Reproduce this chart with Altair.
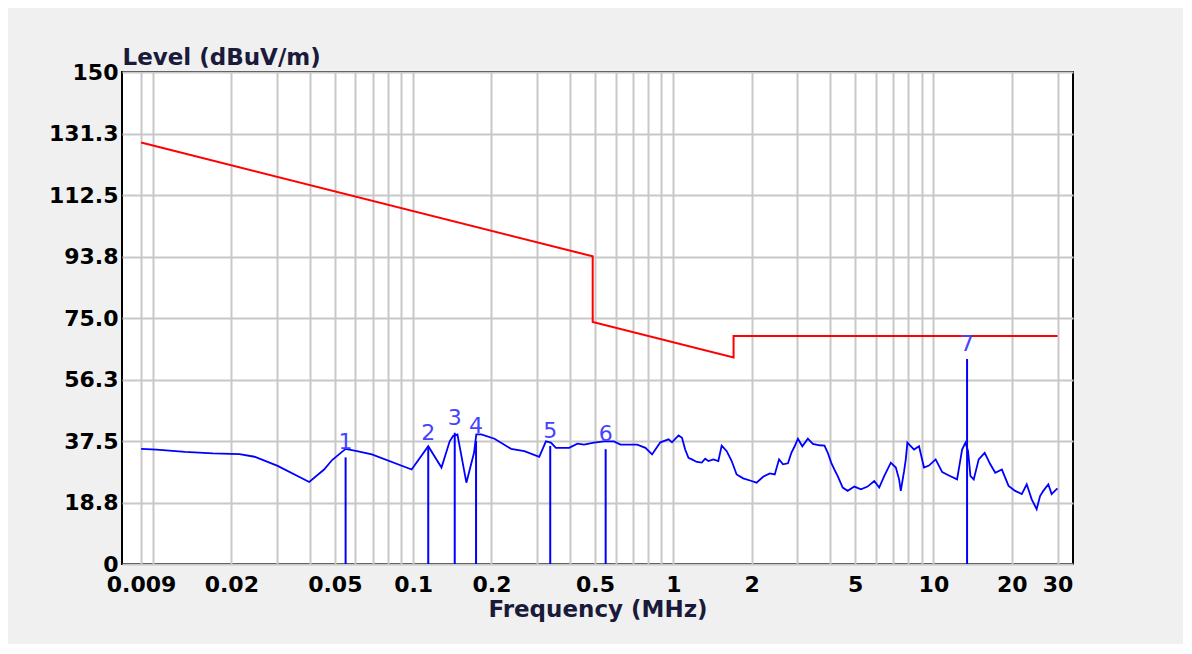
import json
import altair as alt
import pandas as pd

# ---- data ----
trace_freq = [0.009, 0.01033, 0.01326, 0.01701, 0.02151, 0.02455, 0.03014, 0.03986, 0.04546, 0.0488,
              0.0550, 0.0608, 0.0694, 0.0987, 0.1143, 0.1285, 0.1382, 0.1424, 0.1480, 0.1602,
              0.1714, 0.1749, 0.1828, 0.2055, 0.2380, 0.2676, 0.3053, 0.3239, 0.3385, 0.3538,
              0.3978, 0.4282, 0.4539, 0.4957, 0.5414, 0.5910, 0.6271, 0.6848, 0.7265, 0.7816,
              0.8290, 0.8535, 0.8919, 0.9594, 0.9886, 1.048, 1.080, 1.111, 1.144, 1.179,
              1.232, 1.287, 1.326, 1.365, 1.426, 1.490, 1.535, 1.605, 1.677, 1.752,
              1.857, 2.000, 2.090, 2.215, 2.349, 2.455, 2.550, 2.641, 2.760, 2.844,
              2.928, 3.014, 3.133, 3.291, 3.440, 3.649, 3.813, 3.926, 4.045, 4.164,
              4.287, 4.480, 4.682, 4.966, 5.267, 5.582, 5.923, 6.189, 6.468, 6.860,
              7.169, 7.381, 7.492, 7.713, 7.830, 7.941, 8.424, 8.804, 9.199, 9.612,
              10.20, 10.81, 11.47, 12.33, 12.89, 13.28, 13.59, 13.88, 14.29, 14.93,
              15.74, 16.55, 17.29, 18.33, 19.45, 20.62, 21.86, 22.84, 23.87, 24.94,
              25.70, 26.45, 27.65, 28.47, 29.75, 30.0]
trace_level = [35.1, 34.9, 34.2, 33.7, 33.5, 32.7, 29.9, 25.0, 28.8, 31.7,
               35.1, 34.4, 33.4, 28.8, 35.9, 29.4, 37.4, 39.0, 39.5, 24.8,
               33.9, 39.5, 39.5, 38.2, 35.1, 34.4, 32.7, 37.4, 37.0, 35.4,
               35.4, 36.7, 36.4, 37.0, 37.4, 37.4, 36.4, 36.4, 36.4, 35.4,
               33.4, 34.9, 37.1, 38.0, 37.1, 39.2, 38.5, 34.9, 32.4, 31.9,
               31.1, 30.9, 32.1, 31.4, 31.9, 31.4, 36.1, 34.4, 31.4, 27.3,
               26.1, 25.3, 24.8, 26.6, 27.6, 27.3, 31.9, 30.4, 30.7, 33.9,
               35.9, 38.2, 35.9, 38.2, 36.6, 36.2, 36.1, 33.9, 30.9, 28.8,
               26.8, 23.3, 22.3, 23.6, 22.8, 23.6, 25.3, 23.3, 26.8, 30.9,
               29.4, 25.8, 22.3, 28.3, 31.9, 37.0, 34.9, 35.9, 29.4, 30.0,
               31.9, 28.0, 27.0, 25.8, 34.9, 37.0, 34.4, 26.8, 25.8, 31.9,
               33.9, 30.4, 27.8, 28.8, 23.8, 22.3, 21.3, 24.3, 19.7, 16.7,
               20.7, 22.3, 24.3, 21.3, 22.8, 23.0]

limit_freq = [0.009, 0.49, 0.49, 1.705, 1.705, 30.0]
limit_level = [128.5, 93.8, 73.8, 63.0, 69.5, 69.5]

marker_ids = ["1", "2", "3", "4", "5", "6", "7"]
marker_freq = [0.0550, 0.1143, 0.1445, 0.1745, 0.3365, 0.5496, 13.47]
marker_level = [32.5, 35.5, 40.0, 37.5, 36.0, 35.0, 62.5]

x_grid = [0.009, 0.01, 0.02, 0.03, 0.04, 0.05, 0.06, 0.07, 0.08, 0.09,
          0.1, 0.2, 0.3, 0.4, 0.5, 0.6, 0.7, 0.8, 0.9,
          1, 2, 3, 4, 5, 6, 7, 8, 9, 10, 20, 30]
x_labels = [0.009, 0.02, 0.05, 0.1, 0.2, 0.5, 1, 2, 5, 10, 20, 30]
y_ticks = [0, 18.75, 37.5, 56.25, 75, 93.75, 112.5, 131.25, 150]

trace = pd.DataFrame({"freq": trace_freq, "level": trace_level, "i": range(len(trace_freq))})
limit = pd.DataFrame({"freq": limit_freq, "level": limit_level, "i": range(len(limit_freq))})
markers = pd.DataFrame({"id": marker_ids, "freq": marker_freq, "level": marker_level})

FONT = "DejaVu Sans"

x_enc = alt.X(
    "freq:Q",
    scale=alt.Scale(type="log", domain=[0.0076, 34.4], nice=False),
    axis=alt.Axis(
        values=x_grid,
        labelExpr=f"indexof({json.dumps(x_labels)}, datum.value) >= 0 ? format(datum.value, '~g') : ''",
        title="Frequency (MHz)",
        labelOverlap=False,
        labelFlush=False,
        labelPadding=10,
        titlePadding=3,
    ),
)
y_enc = alt.Y(
    "level:Q",
    scale=alt.Scale(domain=[0, 150], nice=False, zero=False),
    axis=alt.Axis(
        values=y_ticks,
        labelExpr="datum.value == 0 || datum.value == 150 ? format(datum.value, 'd') : format(datum.value, '.1f')",
        title="Level (dBuV/m)",
        titleAngle=0,
        titleAlign="left",
        titleBaseline="alphabetic",
        titleX=0,
        titleY=-8,
        labelPadding=4,
        labelOverlap=False,
        labelFlush=False,
    ),
)

limit_line = alt.Chart(limit).mark_line(color="#ff0000", strokeWidth=2).encode(
    x=x_enc, y=y_enc, order="i:Q"
)
trace_line = alt.Chart(trace).mark_line(color="#0000ff", strokeWidth=1.8).encode(
    x=x_enc, y=y_enc, order="i:Q"
)
marker_rules = alt.Chart(markers).mark_rule(color="#0000ff", strokeWidth=2).encode(
    x=x_enc, y=y_enc, y2=alt.datum(0)
)
marker_text = alt.Chart(markers).mark_text(
    baseline="bottom", align="center", dy=-3, fontSize=22, font=FONT, color="#4444ff"
).encode(x=x_enc, y=y_enc, text="id:N")

chart = (
    alt.layer(limit_line, trace_line, marker_rules, marker_text)
    .properties(
        width=951,
        height=492,
        autosize=alt.AutoSizeParams(type="none"),
        padding={"left": 114, "top": 64, "right": 110, "bottom": 80},
        background="#f0f0f0",
    )
    .configure_view(stroke="#000000", strokeWidth=2, fill="#ffffff")
    .configure_axis(
        domain=False,
        ticks=False,
        grid=True,
        gridColor="#c8c8c8",
        gridWidth=2,
        labelFont=FONT,
        labelFontWeight="bold",
        labelFontSize=22,
        labelColor="#000000",
        titleFont=FONT,
        titleFontWeight="bold",
        titleFontSize=23,
        titleColor="#1a1a3a",
    )
)

chart.save("out.html", embed_options={"renderer": "svg", "actions": False})
